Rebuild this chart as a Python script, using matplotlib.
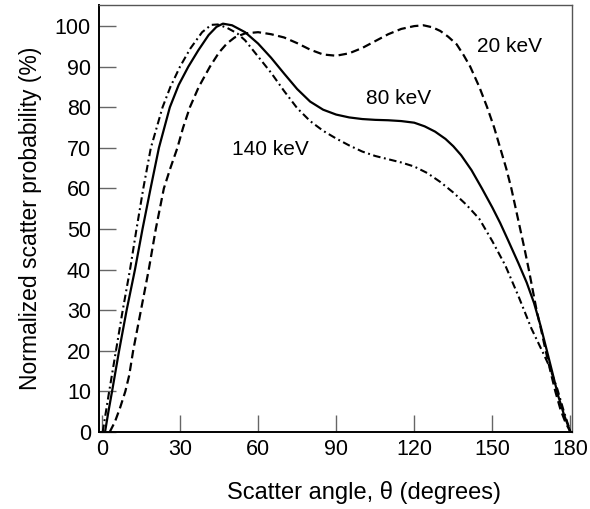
import numpy as np
import matplotlib.pyplot as plt

plt.rcParams['font.family'] = ['Liberation Sans', 'DejaVu Sans']

# values (angle in degrees, probability in %)
angle_20 = [3, 5, 7, 9, 10.5, 12, 13.5, 15, 18, 20.7, 23.8, 26.3, 29, 31.2, 33.8,
            37.2, 41.5, 45, 48, 51, 55, 60, 65, 70, 75, 80, 85, 90, 95, 100, 105,
            110, 115, 120, 123.5, 127, 130, 133, 136.3, 139, 141.5, 145, 148,
            150.7, 153, 155.3, 157.3, 159, 160.7, 162.4, 164, 165.5, 167, 168.8,
            170.5, 172.3, 174.2, 176.2, 178, 180]
prob_20 = [0, 2.5, 6, 10, 14, 20, 25, 30, 40, 50, 60, 65, 70, 75, 80,
           85, 90, 93.5, 95.7, 97.2, 98.2, 98.5, 98, 97.2, 95.8, 94.2, 93, 92.7, 93.3, 94.6, 96.3,
           98, 99.3, 100, 100.2, 99.7, 98.8, 97.4, 95.5, 92.8, 90, 85, 80,
           75, 70, 65, 60, 55, 50, 45, 40, 35, 30, 25,
           20, 15, 10, 5.5, 2.5, 0]

angle_80 = [1.2, 2.5, 3.9, 6.6, 9.5, 12.7, 15.6, 18.7, 21.9, 26.1, 29.5, 33.2, 37,
            41, 44, 46.5, 50, 55, 60, 65, 70, 75, 80, 85, 90, 95, 100, 105, 110,
            115, 120, 124, 128, 132, 135, 138, 142, 146, 150, 153, 156, 160, 163.2,
            166, 168.5, 170.8, 173, 175.3, 177.5, 180]
prob_80 = [0, 5, 10, 20, 30, 40, 50, 60, 70, 80, 85.5, 90, 94,
           97.8, 99.8, 100.6, 100.2, 98.5, 95.7, 92.2, 88.3, 84.5, 81.4, 79.4, 78.2, 77.5, 77.1, 76.9, 76.8,
           76.6, 76.2, 75.3, 74, 72.2, 70.4, 68.2, 64.5, 60, 55.3, 51.5, 47.3, 41.6, 36.8,
           31.8, 26.2, 20.4, 14.8, 8.9, 4.3, 0]

angle_140 = [0.3, 2.8, 5.4, 8, 10.8, 13.3, 15.9, 18.8, 23.3, 26.3, 30, 34, 38.5,
             42, 44.5, 48, 52, 55, 60, 65, 70, 75, 80, 85, 90, 95, 100, 105, 110,
             115, 120, 125, 130, 135, 140, 145, 150, 155, 160, 165, 170, 172,
             175, 177.5, 180]
prob_140 = [0, 10, 20, 30, 40, 50, 60, 70, 80, 85, 90, 94.5, 98.5,
            100.3, 100.4, 99.6, 98.2, 96.5, 92.5, 88.5, 84, 79.8, 76.6, 74.2, 72.3, 70.6, 69.1, 68, 67.2,
            66.4, 65.4, 63.8, 61.6, 59, 56, 52.5, 47, 41, 33.5, 25.5, 18.8, 16,
            10.5, 5, 0]

curve_labels = ['20 keV', '80 keV', '140 keV']
label_pos = [(144, 95), (101.5, 82.2), (50, 69.7)]

fig = plt.figure(figsize=(5.9, 5.09), dpi=100)
ax = fig.add_axes([0.1683, 0.1513, 0.8012, 0.8389])

ax.plot(angle_20, prob_20, color='black', lw=1.6, ls=(0, (3.8, 2.0)))
ax.plot(angle_80, prob_80, color='black', lw=1.6, ls='-')
ax.plot(angle_140, prob_140, color='black', lw=1.5, ls=(0, (3.6, 1.7, 0.9, 1.7)))

for txt, (x, y) in zip(curve_labels, label_pos):
    ax.text(x, y, txt, fontsize=15, ha='left', va='center')

ax.set_xlim(-1, 180.6)
ax.set_ylim(0, 105.2)
ax.set_xticks(np.arange(0, 181, 30))
ax.set_yticks(np.arange(0, 101, 10))
ax.tick_params(direction='in', length=12, width=1, color='#666666',
               labelsize=15.5, pad=6)
ax.tick_params(axis='x', pad=5)

for side in ['left', 'bottom']:
    ax.spines[side].set_linewidth(1.4)
    ax.spines[side].set_color('black')
for side in ['top', 'right']:
    ax.spines[side].set_linewidth(1.0)
    ax.spines[side].set_color('#555555')

ax.set_ylabel('Normalized scatter probability (%)', fontsize=16.5, labelpad=9)
fig.text(364 / 590, 1 - 493 / 509, 'Scatter angle, \u03b8 (degrees)',
         fontsize=17, ha='center', va='center')

fig.savefig('out.png', dpi=100)
